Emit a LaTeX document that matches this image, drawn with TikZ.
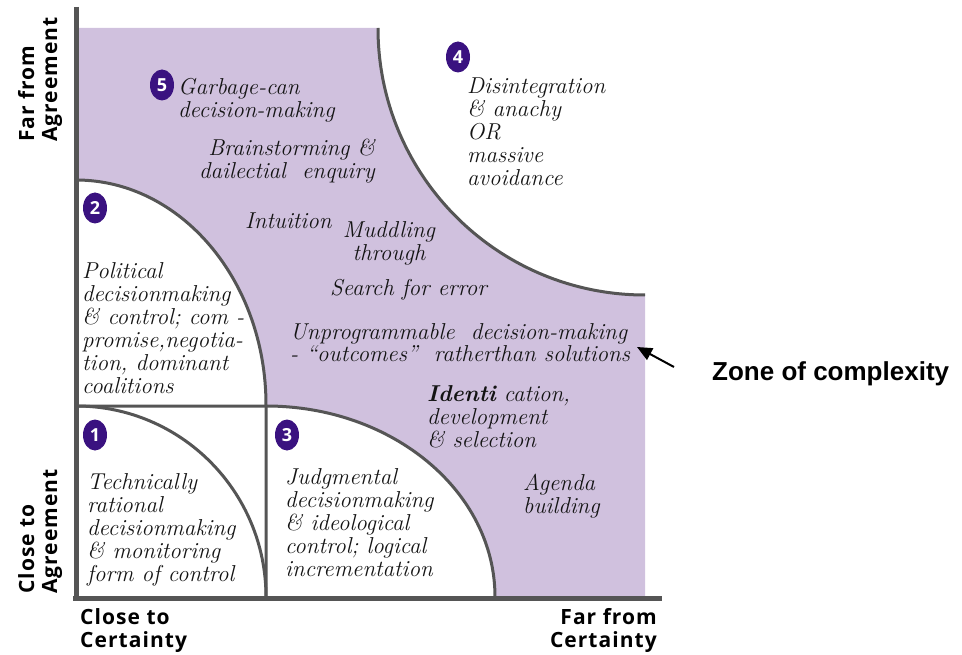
\documentclass[tikz,border=0pt]{standalone}
\usepackage{fontspec}
\newfontfamily\axisfont{Open Sans}[LetterSpace=5]
\newfontfamily\zonefont{Liberation Sans}
\newfontfamily\badgefont{Open Sans}
\usetikzlibrary{shapes.geometric,arrows.meta}
\definecolor{lav}{RGB}{208,193,222}
\definecolor{badgecol}{RGB}{58,18,128}
\definecolor{linecol}{RGB}{85,85,85}
\definecolor{txtcol}{RGB}{20,20,20}
\tikzset{
  body/.style={font=\fontsize{23}{23}\selectfont\itshape, text=txtcol, inner sep=0pt, align=left, anchor=base west},
  badge/.style={ellipse, fill=badgecol, text=white, font=\badgefont\bfseries\fontsize{18}{18}\selectfont, minimum width=24pt, minimum height=31pt, inner sep=0pt},
  axislab/.style={font=\axisfont\bfseries\fontsize{21}{23}\selectfont, inner sep=0pt, align=left},
  edgeline/.style={draw=linecol, line width=3pt},
  axisline/.style={draw=linecol, line width=5pt}
}
\begin{document}
\begin{tikzpicture}[x=1pt,y=-1pt]
\useasboundingbox (0,0) rectangle (962,655);
% zone of complexity fill
\fill[lav] (76,28) -- (378,28) .. controls (378,175.5) and (497.5,295) .. (645,295)
  -- (645,597) -- (495,597) .. controls (495,491.5) and (392.5,406) .. (266,406)
  -- (266,405) .. controls (266,281) and (181,180) .. (76,180) -- cycle;
% boundaries
\draw[edgeline] (378,28) .. controls (378,175.5) and (497.5,295) .. (645,295);
\draw[edgeline] (76,180) .. controls (181,180) and (266,281) .. (266,405) -- (266,597);
\draw[edgeline] (76,406) -- (266,406) .. controls (392.5,406) and (495,491.5) .. (495,597);
\draw[edgeline] (76,406) .. controls (181,406) and (266,491.5) .. (266,597);
% axes
\draw[axisline] (76,7) -- (76,600);
\draw[axisline] (73,598) -- (662,598);
% badges
\node[badge] (b5) at (162,85) {5};
\node[badge] (b4) at (458,57) {4};
\node[badge] (b2) at (95,208) {2};
\node[badge] (b1) at (95,435) {1};
\node[badge] (b3) at (287,435) {3};
% texts (base anchor = baseline of the last line)
\node[body] (t5) at (178,118) {Garbage-can\\decision-making};
\node[body, anchor=base east, align=right] (brain) at (375,179) {Brainstorming \&\\dailectial\ \ enquiry};
\node[body] (intu) at (245,229) {Intuition};
\node[body, anchor=base, align=center] (mudd) at (389,261) {Muddling\\through};
\node[body] (search) at (330,296) {Search for error};
\node[body] (unprog) at (290,362) {Unprogrammable\ \ decision-making\\- “outcomes”\ \ ratherthan solutions};
\node[body] (ident) at (427,447) {{\bfseries Identi} cation,\\development\\\& selection};
\node[body] (agenda) at (523,513) {Agenda\\building};
\node[body] (t4) at (467,186) {Disintegration\\\& anachy\\OR\\massive\\avoidance};
\node[body] (t2) at (82,393) {Political\\decisionmaking\\\& control; com -\\promise,negotia-\\tion, dominant\\coalitions};
\node[body] (t1) at (87,581) {Technically\\rational\\decisionmaking\\\& monitoring\\form of control};
\node[body] (t3) at (285,576) {Judgmental\\decisionmaking\\\& ideological\\control; logical\\incrementation};
% axis labels
\node[axislab, anchor=base west] (xl) at (80,647) {Close to\\Certainty};
\node[axislab, anchor=base east, align=right] (xr) at (657,647) {Far from\\Certainty};
\node[axislab, rotate=90, anchor=base west] (yl) at (57,594) {Close to\\Agreement};
\node[axislab, rotate=90, anchor=base west] (yu) at (57,142) {Far from\\Agreement};
% zone label and arrow
\node[font=\zonefont\bfseries\fontsize{26}{26}\selectfont, anchor=base west, inner sep=0pt] (zone) at (712,380) {Zone of complexity};
\coordinate (tip) at (637,347);
\coordinate (tail) at (674,367);
\draw[line width=2pt, -{Triangle[length=15pt,width=13pt]}] (tail) -- (tip);
\end{tikzpicture}
\end{document}
